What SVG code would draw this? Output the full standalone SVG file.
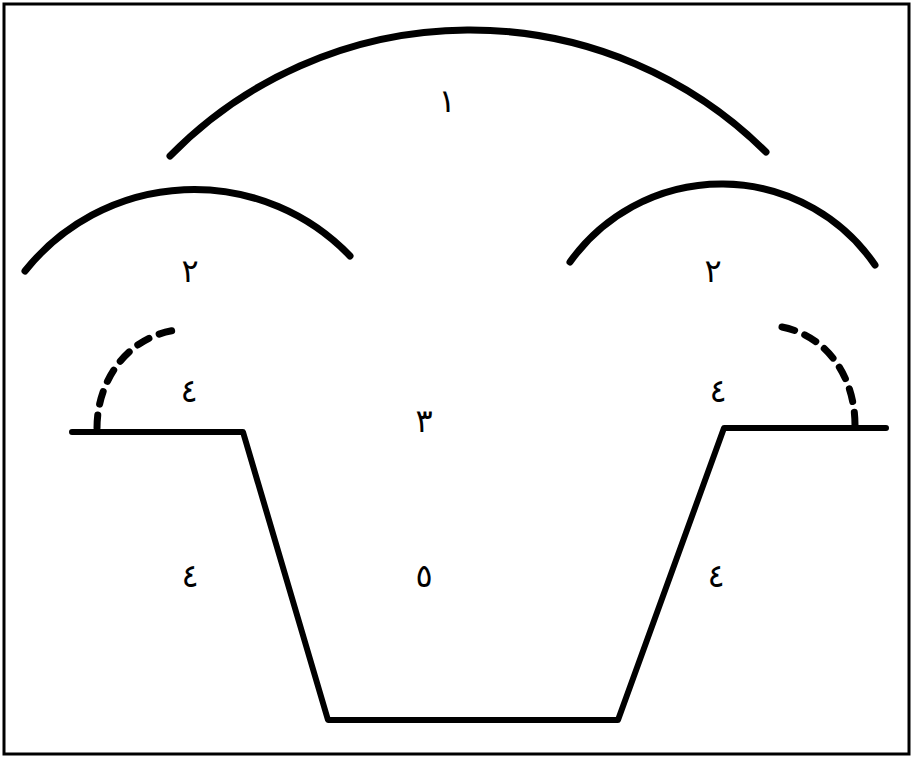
<svg xmlns="http://www.w3.org/2000/svg" width="912" height="757" viewBox="0 0 912 757">
<style>
.ln{fill:none;stroke:#000;stroke-width:7;stroke-linecap:round;stroke-linejoin:round}
.ds{fill:none;stroke:#000;stroke-width:7;stroke-linecap:round;stroke-dasharray:13 11}
.lb{font-family:"DejaVu Sans","Noto Sans",sans-serif;font-size:32px;fill:#000;text-anchor:middle}
</style>
<rect x="4" y="4" width="905" height="750" fill="#fff" stroke="#000" stroke-width="3"/>
<g id="arc1"><path class="ln" d="M170,156 A420,420 0 0 1 766,152"/></g>
<g id="arc2-left"><path class="ln" d="M25,271 A216,216 0 0 1 350,256"/></g>
<g id="arc2-right"><path class="ln" d="M570,262 A186,186 0 0 1 875,265"/></g>
<g id="dash-left"><path class="ds" d="M97,428 C97,380 128,336 177,330"/></g>
<g id="dash-right"><path class="ds" d="M782,327 C828,336 855,378 855,425"/></g>
<g id="trench"><path class="ln" style="stroke-width:6" d="M72,432 L243,432 L328,720 L618,720 L724,428 L886,428"/></g>
<g id="labels">
<text class="lb" x="447" y="112">١</text>
<text class="lb" x="190" y="282">٢</text>
<text class="lb" x="713" y="282">٢</text>
<text class="lb" x="424" y="432">٣</text>
<text class="lb" x="189" y="402">٤</text>
<text class="lb" x="718" y="402">٤</text>
<text class="lb" x="190" y="587">٤</text>
<text class="lb" x="716" y="587">٤</text>
<text class="lb" x="424" y="587">٥</text>
</g>
</svg>
